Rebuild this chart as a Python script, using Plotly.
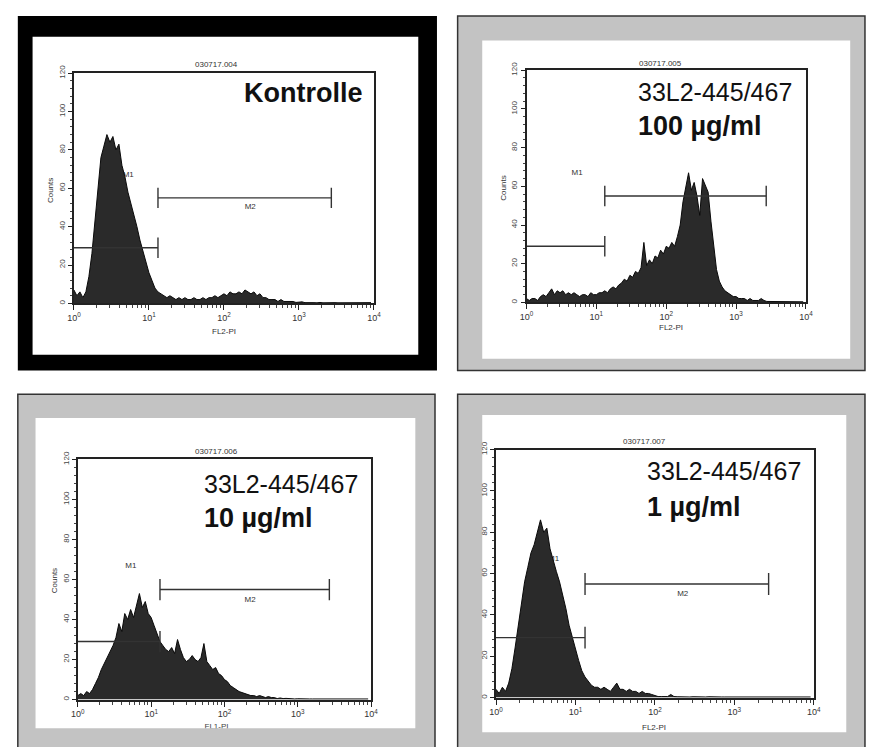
import numpy as np
import plotly.graph_objects as go

# ---------------- data ----------------
LOG_STEP = 0.04
N_CH = 100
channels = 10 ** (np.arange(N_CH) * LOG_STEP)   # channel positions (FL2 intensity)

counts_kontrolle = [
    7, 4, 6, 3, 6, 14, 26, 43, 58, 76,
    82, 88, 84, 87, 80, 83, 72, 66, 58, 52,
    47, 40, 33, 27, 21, 16, 12, 8, 6, 5,
    4, 3, 4, 3, 2, 3, 2, 3, 2, 2,
    3, 2, 2, 3, 2, 3, 3, 4, 3, 4,
    5, 4, 6, 5, 5, 6, 5, 7, 6, 5,
    6, 4, 5, 3, 3, 2, 2, 2, 1, 2,
    1, 1, 1, 1, 0.5, 0.5, 0.8, 0.4, 0.5, 0.3,
    0.4, 0.3, 0.5, 0.3, 0.4, 0.3, 0.3, 0.4, 0.3, 0.3,
    0.3, 0.4, 0.3, 0.3, 0.3, 0.4, 0.3, 0.3, 0.3, 0.4,
]
counts_100 = [
    2, 1, 2, 2, 1, 3, 4, 3, 5, 7,
    4, 6, 5, 6, 4, 5, 4, 5, 4, 3,
    4, 4, 3, 5, 4, 4, 5, 5, 6, 5,
    7, 8, 7, 9, 10, 12, 11, 14, 13, 16,
    15, 18, 31, 19, 22, 20, 24, 23, 27, 25,
    29, 28, 31, 29, 34, 40, 52, 60, 67, 58,
    62, 55, 45, 64, 60, 57, 42, 28, 17, 11,
    8, 6, 5, 4, 3, 3, 2, 2, 2, 1,
    2, 1, 1, 1, 2, 1, 0.5, 0.5, 0.4, 0.3,
    0.3, 0.4, 0.3, 0.3, 0.3, 0.3, 0.4, 0.3, 0.3, 0.3,
]
counts_10 = [
    2, 3, 2, 4, 3, 5, 8, 11, 15, 18,
    21, 24, 27, 31, 38, 34, 43, 40, 45, 41,
    47, 53, 46, 49, 43, 41, 37, 33, 29, 27,
    25, 24, 26, 23, 30, 25, 21, 19, 20, 22,
    20, 19, 21, 28, 19, 17, 15, 16, 13, 12,
    10, 9, 7, 6, 5, 4, 3.5, 3, 2.5, 2,
    2, 1.5, 2, 1.5, 1, 1.5, 1, 1, 0.5, 0.8,
    0.5, 0.6, 0.4, 0.5, 0.3, 0.4, 0.3, 0.3, 0.4, 0.3,
    0.3, 0.3, 0.4, 0.3, 0.3, 0.3, 0.4, 0.3, 0.3, 0.3,
    0.3, 0.3, 0.3, 0.4, 0.3, 0.3, 0.3, 0.3, 0.4, 0.3,
]
counts_1 = [
    4, 2, 5, 3, 7, 14, 24, 35, 47, 56,
    63, 70, 74, 80, 86, 80, 82, 72, 66, 61,
    56, 50, 43, 35, 29, 23, 18, 13, 10, 8,
    6, 5, 5, 4, 5, 4, 3, 5, 7, 4,
    4, 3, 4, 3, 3, 2, 3, 2, 2, 1.5,
    1, 0.5, 0.5, 0.5, 0.5, 1.5, 0.5, 0.4, 0.3, 0.4,
    0.3, 0.3, 0.4, 0.3, 0.3, 0.3, 0.3, 0.4, 0.3, 0.3,
    0.3, 0.3, 0.3, 0.3, 0.4, 0.3, 0.3, 0.3, 0.3, 0.3,
    0.3, 0.4, 0.3, 0.3, 0.3, 0.3, 0.3, 0.3, 0.4, 0.3,
    0.3, 0.3, 0.3, 0.3, 0.3, 0.4, 0.3, 0.3, 0.3, 0.3,
]

file_ids = ["030717.004", "030717.005", "030717.006", "030717.007"]
label_line1 = ["Kontrolle", "33L2-445/467", "33L2-445/467", "33L2-445/467"]
label_line2 = ["", "100 µg/ml", "10 µg/ml", "1 µg/ml"]
x_titles = ["FL2-PI", "FL2-PI", "FL1-PI", "FL2-PI"]

M1_RANGE = [1, 13.2]
M2_RANGE = [13.2, 2700]
M1_LEVEL = 29
M2_LEVEL = 55
M_HALF = 5.3
M_LABEL_X = [5.3, 224]
M_LABEL_Y = [67, 50]

X_TICKVALS = [1, 10, 100, 1000, 10000]
X_TICKTEXT = ["10<sup>0</sup>", "10<sup>1</sup>", "10<sup>2</sup>", "10<sup>3</sup>", "10<sup>4</sup>"]
X_MINOR = [k * 10 ** d for d in range(4) for k in range(2, 10)]
Y_TICKVALS = [0, 20, 40, 60, 80, 100, 120]

W, H = 870, 747
def P(px):
    return px / W
def Q(py):
    return 1 - py / H

FONT = "Liberation Sans, Arial, sans-serif"
INK = "#222"

panels = [
    dict(counts=counts_kontrolle, dx=(68, 373), dy=(66, 299)),
    dict(counts=counts_100, dx=(528, 812), dy=(63, 298)),
    dict(counts=counts_10, dx=(72, 370), dy=(457, 700)),
    dict(counts=counts_1, dx=(497, 820), dy=(447, 698)),
]

fig = go.Figure()
layout_axes = {}
for i, pn in enumerate(panels):
    k = "" if i == 0 else str(i + 1)
    xa, ya = "x" + k, "y" + k
    # marker labels (drawn under the histogram)
    fig.add_trace(go.Scatter(
        x=M_LABEL_X, y=M_LABEL_Y, text=["M1", "M2"], mode="text",
        textfont=dict(family=FONT, size=8, color="#333"),
        xaxis=xa, yaxis=ya, showlegend=False, hoverinfo="skip"))
    # histogram
    fig.add_trace(go.Scatter(
        x=channels, y=pn["counts"], mode="lines", fill="tozeroy",
        fillcolor="#2a2a2a", line=dict(color="#0a0a0a", width=1),
        xaxis=xa, yaxis=ya, showlegend=False))
    # marker bars
    fig.add_trace(go.Scatter(
        x=[M1_RANGE[0], M1_RANGE[1], None, M1_RANGE[1], M1_RANGE[1]],
        y=[M1_LEVEL, M1_LEVEL, None, M1_LEVEL - M_HALF, M1_LEVEL + M_HALF],
        mode="lines", line=dict(color="#333", width=1.4),
        xaxis=xa, yaxis=ya, showlegend=False, hoverinfo="skip"))
    fig.add_trace(go.Scatter(
        x=[M2_RANGE[0], M2_RANGE[0], None, M2_RANGE[0], M2_RANGE[1], None, M2_RANGE[1], M2_RANGE[1]],
        y=[M2_LEVEL - M_HALF, M2_LEVEL + M_HALF, None, M2_LEVEL, M2_LEVEL, None,
           M2_LEVEL - M_HALF, M2_LEVEL + M_HALF],
        mode="lines", line=dict(color="#333", width=1.4),
        xaxis=xa, yaxis=ya, showlegend=False, hoverinfo="skip"))

    layout_axes["xaxis" + k] = dict(
        type="log", range=[0, 4], domain=[P(pn["dx"][0]), P(pn["dx"][1])],
        anchor=ya, showgrid=False, zeroline=False,
        showline=True, linecolor=INK, linewidth=2, mirror=True,
        ticks="outside", ticklen=5, tickwidth=1.2, tickcolor=INK,
        tickvals=X_TICKVALS, ticktext=X_TICKTEXT,
        tickfont=dict(family=FONT, size=9, color="#333"),
        minor=dict(ticks="outside", ticklen=3, tickcolor="#444", tickvals=X_MINOR, showgrid=False),
        fixedrange=True)
    layout_axes["yaxis" + k] = dict(
        range=[0, 120], domain=[Q(pn["dy"][1]), Q(pn["dy"][0])],
        anchor=xa, showgrid=False, zeroline=False,
        showline=True, linecolor=INK, linewidth=2, mirror=True,
        ticks="outside", ticklen=4, tickwidth=1.2, tickcolor=INK,
        tickvals=Y_TICKVALS, tickangle=-90,
        tickfont=dict(family=FONT, size=8, color="#444"),
        minor=dict(ticks="outside", ticklen=2, tickcolor="#444", dtick=4, showgrid=False),
        fixedrange=True)

# clipped partial axis title of panel 3 (cut by the frame)
fig.add_trace(go.Scatter(
    x=[0.473], y=[0.05], text=[x_titles[2]], mode="text", textposition="middle center",
    textfont=dict(family=FONT, size=8, color="#444"), cliponaxis=True,
    xaxis="x5", yaxis="y5", showlegend=False, hoverinfo="skip"))
layout_axes["xaxis5"] = dict(domain=[P(72), P(370)], range=[0, 1], visible=False, anchor="y5", fixedrange=True)
layout_axes["yaxis5"] = dict(domain=[Q(729), Q(712)], range=[0, 1], visible=False, anchor="x5", fixedrange=True)

# ---------------- frames ----------------
GRAY = "#c3c3c3"
shapes = [
    dict(type="rect", xref="paper", yref="paper", x0=P(11), x1=P(437), y0=Q(367), y1=Q(8),
         fillcolor="#000", line=dict(width=0), layer="below"),
    dict(type="rect", xref="paper", yref="paper", x0=P(26), x1=P(418), y0=Q(351), y1=Q(29),
         fillcolor="#fff", line=dict(width=0), layer="below"),
    dict(type="rect", xref="paper", yref="paper", x0=P(458), x1=P(872), y0=Q(367), y1=Q(8),
         fillcolor=GRAY, line=dict(color="#333", width=1.5), layer="below"),
    dict(type="rect", xref="paper", yref="paper", x0=P(483), x1=P(857), y0=Q(355), y1=Q(33),
         fillcolor="#fff", line=dict(width=0), layer="below"),
    dict(type="rect", xref="paper", yref="paper", x0=P(11), x1=P(435), y0=Q(750), y1=Q(391),
         fillcolor=GRAY, line=dict(color="#333", width=1.5), layer="below"),
    dict(type="rect", xref="paper", yref="paper", x0=P(29), x1=P(415), y0=Q(729), y1=Q(415),
         fillcolor="#fff", line=dict(width=0), layer="below"),
    dict(type="rect", xref="paper", yref="paper", x0=P(458), x1=P(872), y0=Q(750), y1=Q(391),
         fillcolor=GRAY, line=dict(color="#333", width=1.5), layer="below"),
    dict(type="rect", xref="paper", yref="paper", x0=P(483), x1=P(853), y0=Q(733), y1=Q(412),
         fillcolor="#fff", line=dict(width=0), layer="below"),
]

# ---------------- texts ----------------
def ann(text, px, py, size, bold=False, xanchor="center", angle=0, color="#222"):
    return dict(text=("<b>%s</b>" % text) if bold else text, x=P(px), y=Q(py),
                xref="paper", yref="paper", xanchor=xanchor, yanchor="middle",
                showarrow=False, textangle=angle,
                font=dict(family=FONT, size=size, color=color))

annotations = [
    # file ids
    ann(file_ids[0], 213, 57, 8, color="#333"),
    ann(file_ids[1], 664, 56, 8, color="#333"),
    ann(file_ids[2], 213, 449, 8, color="#333"),
    ann(file_ids[3], 648, 439, 8, color="#333"),
    # y titles
    ann("Counts", 44, 185, 8, angle=-90, color="#333"),
    ann("Counts", 505, 182, 8, angle=-90, color="#333"),
    ann("Counts", 48, 580, 8, angle=-90, color="#333"),
    # x titles
    ann(x_titles[0], 221, 327, 8, color="#333"),
    ann(x_titles[1], 675, 323, 8, color="#333"),
    ann(x_titles[3], 658, 728, 8, color="#333"),
    # big labels
    ann(label_line1[0], 364, 86, 27, bold=True, xanchor="right", color="#111"),
    ann(label_line1[1], 639, 85, 25, xanchor="left", color="#111"),
    ann(label_line2[1], 639, 119, 27, bold=True, xanchor="left", color="#111"),
    ann(label_line1[2], 198, 482, 25, xanchor="left", color="#111"),
    ann(label_line2[2], 198, 516, 27, bold=True, xanchor="left", color="#111"),
    ann(label_line1[3], 648, 469, 25, xanchor="left", color="#111"),
    ann(label_line2[3], 648, 505, 27, bold=True, xanchor="left", color="#111"),
]

fig.update_layout(
    width=W, height=H, margin=dict(l=0, r=0, t=0, b=0),
    paper_bgcolor="#fff", plot_bgcolor="rgba(0,0,0,0)",
    shapes=shapes, annotations=annotations, showlegend=False,
    **layout_axes)

fig.write_html("out.html", config=dict(displayModeBar=False))
